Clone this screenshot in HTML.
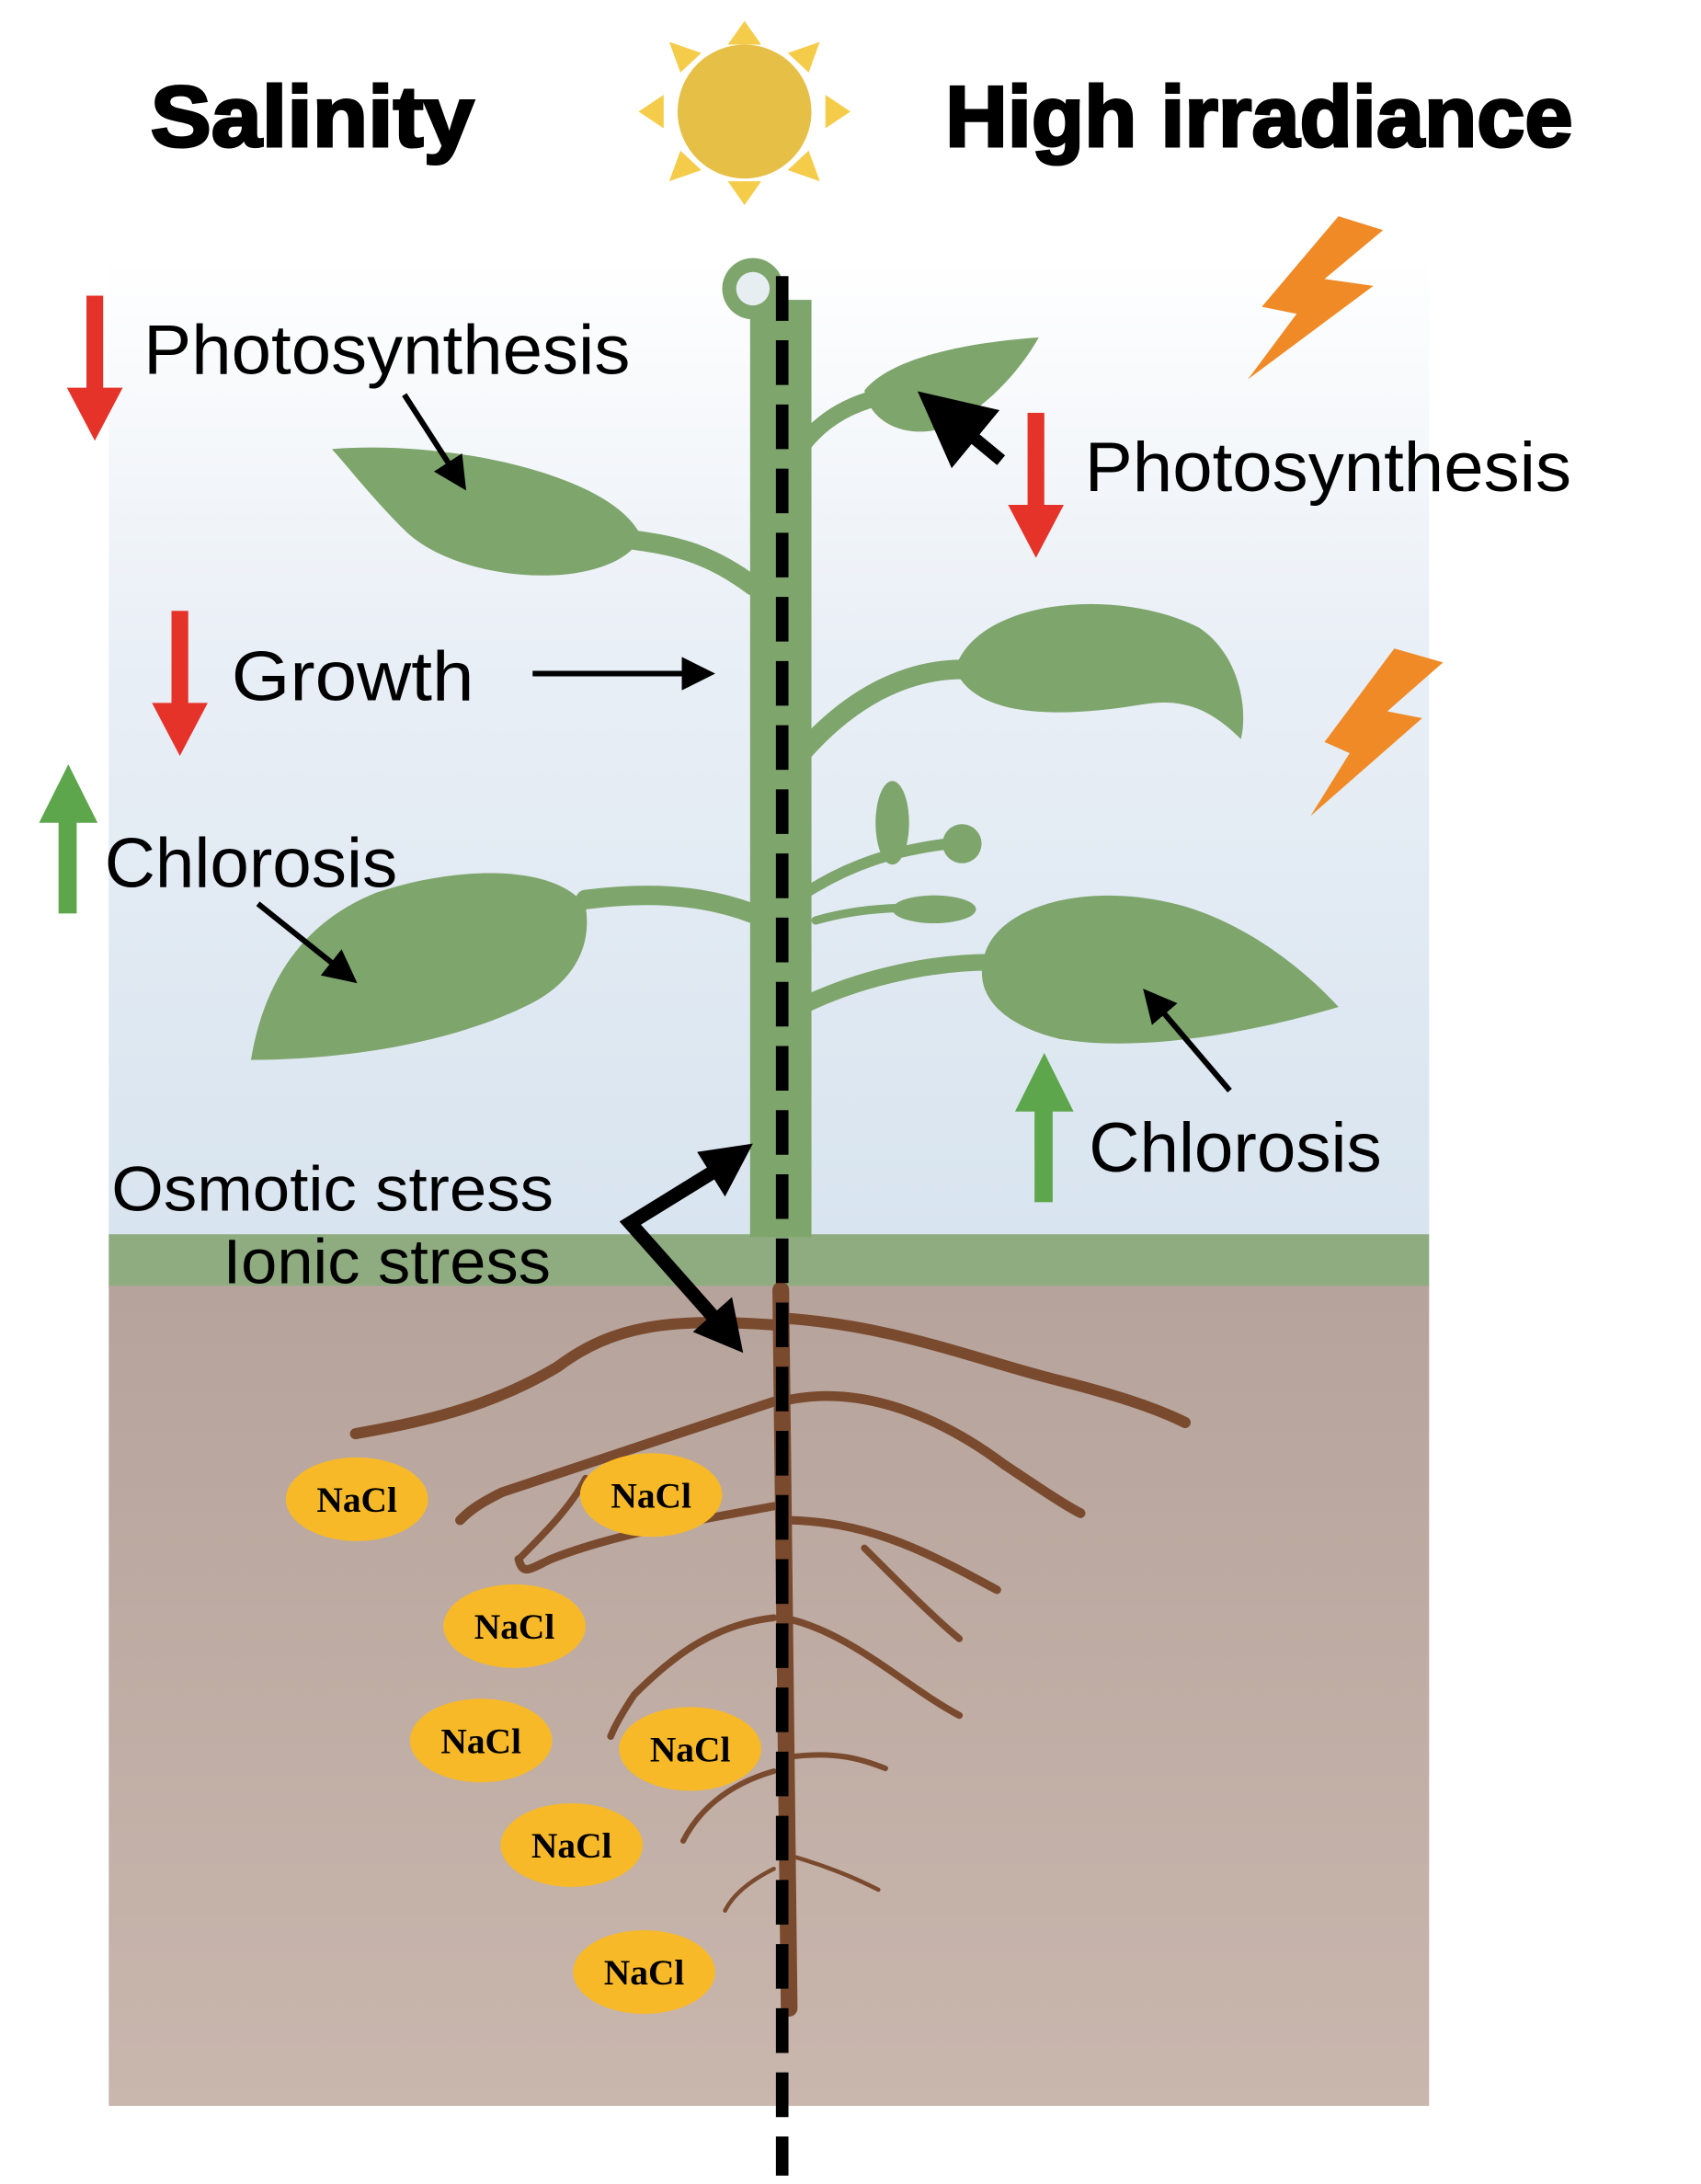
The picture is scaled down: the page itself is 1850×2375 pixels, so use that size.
<!DOCTYPE html>
<html><head><style>html,body{margin:0;padding:0;background:#fff}svg{display:block}</style></head>
<body>
<svg width="1850" height="2375" viewBox="0 0 1220 1566" preserveAspectRatio="none" xmlns="http://www.w3.org/2000/svg">
<defs>
<linearGradient id="sky" x1="0" y1="0" x2="0" y2="1"><stop offset="0" stop-color="#ffffff"/><stop offset="0.4" stop-color="#e9eff6"/><stop offset="1" stop-color="#d8e4ef"/></linearGradient>
<linearGradient id="soil" x1="0" y1="0" x2="0" y2="1"><stop offset="0" stop-color="#b6a49c"/><stop offset="1" stop-color="#c9b6ad"/></linearGradient>
<marker id="ah" markerWidth="6" markerHeight="6" refX="4" refY="3" orient="auto"><path d="M0,0 L6,3 L0,6 z" fill="#000"/></marker>
</defs>
<rect x="78" y="185" width="947" height="702" fill="url(#sky)"/>
<rect x="78" y="885" width="947" height="38" fill="#8fac80"/>
<rect x="78" y="922" width="947" height="588" fill="url(#soil)"/>
<!-- titles -->
<text x="108" y="105" font-family="Liberation Sans, sans-serif" font-weight="900" font-size="62" fill="#000" stroke="#000" stroke-width="2" textLength="232" lengthAdjust="spacingAndGlyphs">Salinity</text>
<text x="678" y="105" font-family="Liberation Sans, sans-serif" font-weight="900" font-size="62" fill="#000" stroke="#000" stroke-width="2" textLength="450" lengthAdjust="spacingAndGlyphs">High irradiance</text>
<!-- sun -->
<g fill="#f5cc4a">
<polygon points="534,15 522,32 546,32"/><polygon points="534,147 522,130 546,130"/>
<polygon points="458,80 476,68 476,92"/><polygon points="610,80 592,68 592,92"/>
<polygon points="480,30 503,38 488,52"/><polygon points="588,30 565,38 580,52"/>
<polygon points="480,130 503,122 488,108"/><polygon points="588,130 565,122 580,108"/>
</g>
<circle cx="534" cy="80" r="48" fill="#e6bf47"/>
<!-- lightning -->
<polygon points="960,155 992,165 950,200 985,205 895,272 930,225 905,220" fill="#ef8a27"/>
<polygon points="1000,465 1035,475 995,510 1020,515 940,585 968,540 950,532" fill="#ef8a27"/>
<!-- roots -->
<g stroke="#7a4a2e" fill="none" stroke-linecap="round">
<path d="M560,925 L566,1440" stroke-width="12"/>
<path d="M555,950 C480,945 440,950 400,980 C350,1010 300,1020 255,1028" stroke-width="8"/>
<path d="M560,945 C640,950 700,975 760,990 C800,1000 830,1010 850,1020" stroke-width="8"/>
<path d="M555,1005 C480,1030 420,1050 360,1070 C340,1080 335,1085 330,1090" stroke-width="7"/>
<path d="M560,1005 C620,990 680,1020 720,1050 C750,1070 765,1080 775,1085" stroke-width="7"/>
<path d="M555,1080 C500,1090 440,1100 395,1118 C380,1125 375,1130 372,1118" stroke-width="6"/>
<path d="M560,1090 C620,1090 660,1110 715,1140" stroke-width="6"/>
<path d="M620,1110 C650,1140 670,1160 688,1175" stroke-width="5"/>
<path d="M555,1160 C510,1165 480,1190 455,1215 C445,1230 440,1240 438,1245" stroke-width="5"/>
<path d="M562,1160 C610,1170 650,1210 688,1230" stroke-width="5"/>
<path d="M555,1270 C520,1280 500,1300 490,1320" stroke-width="4"/>
<path d="M565,1260 C600,1255 620,1262 635,1268" stroke-width="4"/>
<path d="M555,1340 C535,1350 525,1360 520,1370" stroke-width="3"/>
<path d="M565,1330 C600,1340 620,1350 630,1355" stroke-width="3"/>
<path d="M420,1060 C410,1080 390,1100 372,1118" stroke-width="5"/>
</g>
<!-- stem and branches -->
<g stroke="#7ea56c" fill="none" stroke-linecap="round">
<path d="M540,420 C500,390 470,390 440,385" stroke-width="14"/>
<path d="M575,320 C590,300 610,290 630,285" stroke-width="12"/>
<path d="M575,540 C610,500 650,480 690,480" stroke-width="14"/>
<path d="M540,655 C500,640 460,640 420,645" stroke-width="14"/>
<path d="M578,720 C620,700 670,690 710,690" stroke-width="12"/>
<path d="M578,640 C610,620 640,610 680,605" stroke-width="8"/>
<path d="M585,660 C620,650 650,650 690,652" stroke-width="6"/>
</g>
<rect x="538" y="215" width="44" height="672" fill="#7ea56c"/>
<circle cx="540" cy="207" r="22" fill="#7ea56c"/>
<circle cx="540" cy="207" r="12" fill="#e6eef2"/>
<circle cx="690" cy="605" r="14" fill="#7ea56c"/>
<!-- leaves -->
<g fill="#7ea56c">
<path d="M238,322 C320,315 440,340 460,385 C440,425 330,420 290,380 C265,355 250,335 238,322 z"/>
<path d="M745,242 C700,245 640,255 620,280 C625,310 665,318 690,300 C715,285 735,260 745,242 z"/>
<path d="M685,480 C700,430 800,420 860,450 C890,470 895,510 890,530 C870,510 850,500 820,505 C760,515 700,515 685,480 z"/>
<path d="M420,650 C400,620 330,620 270,640 C220,660 190,700 180,760 C240,760 320,750 380,720 C410,705 425,680 420,650 z"/>
<path d="M705,690 C710,650 780,630 850,650 C900,665 940,700 960,722 C900,740 820,755 760,745 C720,735 700,715 705,690 z"/>
<ellipse cx="640" cy="590" rx="12" ry="30"/>
<ellipse cx="670" cy="652" rx="30" ry="10"/>
</g>
<!-- dashed line -->
<line x1="561" y1="198" x2="561" y2="1560" stroke="#000" stroke-width="9" stroke-dasharray="32,14"/>
<!-- NaCl -->
<g font-family="Liberation Serif, serif" font-weight="bold" font-size="26" text-anchor="middle">
<g><ellipse cx="256" cy="1075" rx="51" ry="30" fill="#f7b928"/><text x="256" y="1084">NaCl</text></g>
<g><ellipse cx="467" cy="1072" rx="51" ry="30" fill="#f7b928"/><text x="467" y="1081">NaCl</text></g>
<g><ellipse cx="369" cy="1166" rx="51" ry="30" fill="#f7b928"/><text x="369" y="1175">NaCl</text></g>
<g><ellipse cx="345" cy="1248" rx="51" ry="30" fill="#f7b928"/><text x="345" y="1257">NaCl</text></g>
<g><ellipse cx="495" cy="1254" rx="51" ry="30" fill="#f7b928"/><text x="495" y="1263">NaCl</text></g>
<g><ellipse cx="410" cy="1323" rx="51" ry="30" fill="#f7b928"/><text x="410" y="1332">NaCl</text></g>
<g><ellipse cx="462" cy="1414" rx="51" ry="30" fill="#f7b928"/><text x="462" y="1423">NaCl</text></g>
</g>
<!-- colored arrows -->
<g>
<rect x="62" y="212" width="12" height="72" fill="#e5332a"/><polygon points="48,278 88,278 68,316" fill="#e5332a"/>
<rect x="123" y="438" width="12" height="72" fill="#e5332a"/><polygon points="109,504 149,504 129,542" fill="#e5332a"/>
<rect x="737" y="296" width="12" height="72" fill="#e5332a"/><polygon points="723,362 763,362 743,400" fill="#e5332a"/>
<rect x="42" y="585" width="13" height="70" fill="#5ea64b"/><polygon points="28,590 70,590 49,548" fill="#5ea64b"/>
<rect x="742" y="792" width="13" height="70" fill="#5ea64b"/><polygon points="728,797 770,797 749,755" fill="#5ea64b"/>
</g>
<!-- labels -->
<g font-family="Liberation Sans, sans-serif" font-size="50" fill="#000">
<text x="103" y="268" textLength="349" lengthAdjust="spacingAndGlyphs">Photosynthesis</text>
<text x="778" y="352" textLength="349" lengthAdjust="spacingAndGlyphs">Photosynthesis</text>
<text x="166" y="502" textLength="174" lengthAdjust="spacingAndGlyphs">Growth</text>
<text x="75" y="636" textLength="210" lengthAdjust="spacingAndGlyphs">Chlorosis</text>
<text x="781" y="840" textLength="210" lengthAdjust="spacingAndGlyphs">Chlorosis</text>
<text x="80" y="868" font-size="45" textLength="317" lengthAdjust="spacingAndGlyphs">Osmotic stress</text>
<text x="160" y="920" font-size="45" textLength="235" lengthAdjust="spacingAndGlyphs">Ionic stress</text>
</g>
<!-- black arrows -->
<g stroke="#000" fill="none">
<line x1="290" y1="283" x2="330" y2="345" stroke-width="4" marker-end="url(#ah)"/>
<line x1="382" y1="483" x2="505" y2="483" stroke-width="4" marker-end="url(#ah)"/>
<line x1="185" y1="648" x2="250" y2="700" stroke-width="4" marker-end="url(#ah)"/>
<line x1="882" y1="782" x2="825" y2="715" stroke-width="4" marker-end="url(#ah)"/>
<line x1="718" y1="330" x2="672" y2="292" stroke-width="9" marker-end="url(#ah)"/>
<polyline points="512,840 452,877 515,948" stroke-width="10" stroke-linejoin="miter" fill="none"/>
</g>
<polygon points="540,820 500,826 520,858" fill="#000"/>
<polygon points="533,970 525,930 497,955" fill="#000"/>
</svg>
</body></html>
